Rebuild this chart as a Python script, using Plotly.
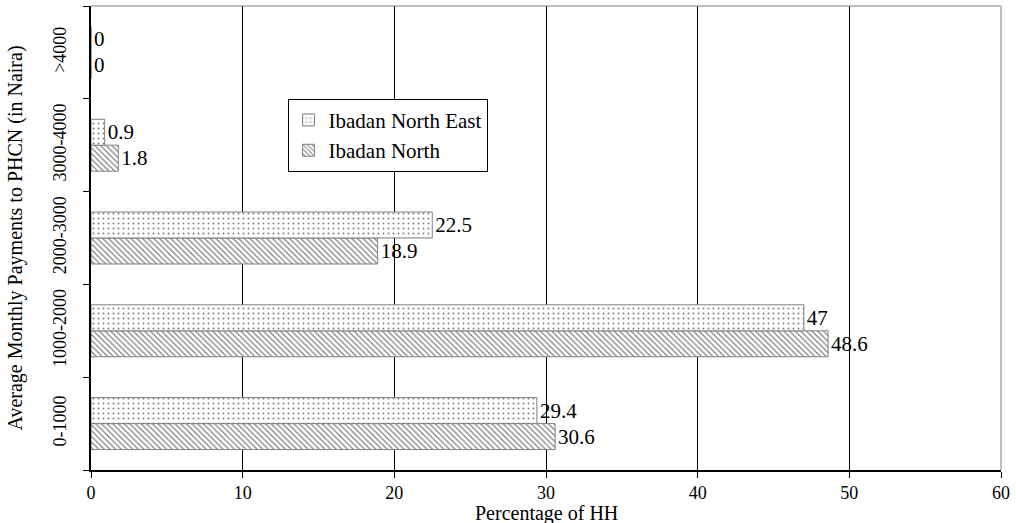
import plotly.graph_objects as go

categories = ["0-1000", "1000-2000", "2000-3000", "3000-4000", ">4000"]
ibadan_north_east = [29.4, 47, 22.5, 0.9, 0]
ibadan_north = [30.6, 48.6, 18.9, 1.8, 0]

FONT = "Liberation Serif"

fig = go.Figure()
fig.add_trace(go.Bar(
    name="Ibadan North", y=categories, x=ibadan_north, orientation="h",
    text=[str(v) for v in ibadan_north], textposition="outside",
    textfont=dict(family=FONT, size=21, color="black"), cliponaxis=False,
    marker=dict(color="white", line=dict(color="#808080", width=1),
                pattern=dict(shape="\\", fgcolor="black", bgcolor="white", size=4, solidity=0.3)),
))
fig.add_trace(go.Bar(
    name="Ibadan North East", y=categories, x=ibadan_north_east, orientation="h",
    text=[str(v) for v in ibadan_north_east], textposition="outside",
    textfont=dict(family=FONT, size=21, color="black"), cliponaxis=False,
    marker=dict(color="white", line=dict(color="#808080", width=1),
                pattern=dict(shape=".", fgcolor="black", bgcolor="white", size=5, solidity=0.12)),
))

fig.update_layout(
    width=1016, height=523,
    margin=dict(l=91, r=10, t=6, b=53),
    paper_bgcolor="white", plot_bgcolor="white",
    barmode="group", bargap=0.44, bargroupgap=0,
    font=dict(family=FONT, size=18, color="black"),
    showlegend=True,
    legend=dict(x=0.216, y=0.8, xanchor="left", yanchor="top",
                traceorder="reversed", bgcolor="white",
                bordercolor="black", borderwidth=1,
                font=dict(family=FONT, size=21, color="black"),
                itemwidth=30, tracegroupgap=0),
    xaxis=dict(range=[0, 60], dtick=10, showgrid=True, gridcolor="black", gridwidth=1,
               showline=True, linecolor="black", linewidth=1.5,
               ticks="outside", ticklen=6, tickcolor="black",
               tickfont=dict(family=FONT, size=18), zeroline=False),
    yaxis=dict(showgrid=False, showline=True, linecolor="black", linewidth=1.5,
               ticks="outside", ticklen=6, tickcolor="black", tickson="boundaries",
               tickangle=-90, tickfont=dict(family=FONT, size=18), ticklabelstandoff=16,
               title=dict(text="Average Monthly Payments to PHCN (in Naira)",
                          font=dict(family=FONT, size=20), standoff=22)),
    annotations=[
        dict(text="Percentage of HH", xref="paper", yref="paper", x=0.5, y=-0.094,
             xanchor="center", yanchor="middle", showarrow=False,
             font=dict(family=FONT, size=20, color="black")),
    ],
    shapes=[
        dict(type="line", xref="paper", yref="paper", x0=0, x1=1, y0=1, y1=1,
             line=dict(color="#808080", width=1)),
        dict(type="line", xref="paper", yref="paper", x0=1, x1=1, y0=0, y1=1,
             line=dict(color="#808080", width=1)),
    ],
)

fig.write_html("out.html", config={"displayModeBar": False},
               post_script="document.body.style.margin='0';")
